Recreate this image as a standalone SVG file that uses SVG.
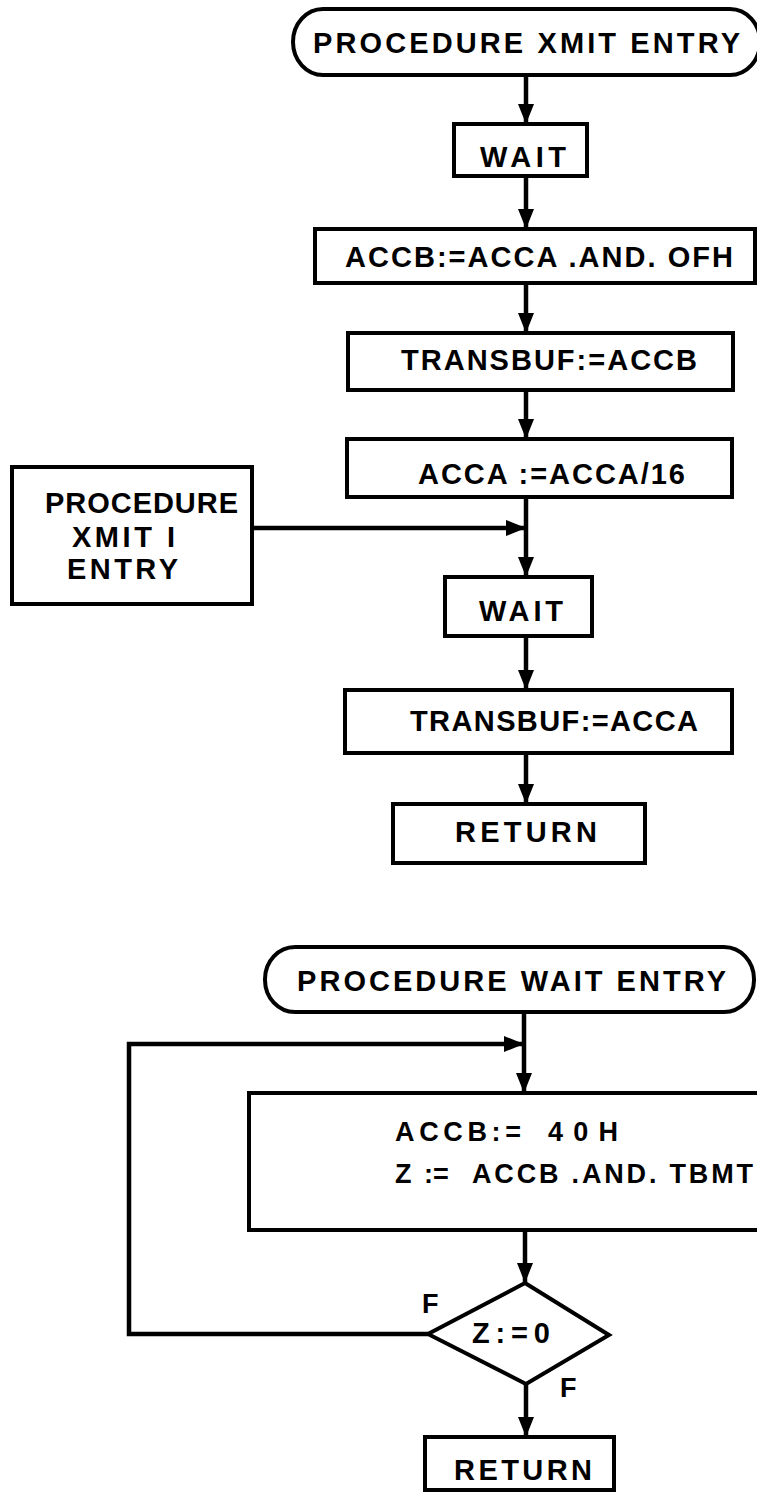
<svg xmlns="http://www.w3.org/2000/svg" width="757" height="1492" viewBox="0 0 757 1492">
  <style>
    .box { fill: #fff; stroke: #000; stroke-width: 4; }
    .wire { fill: none; stroke: #000; stroke-width: 4.5; stroke-linejoin: miter; }
    .lbl { font-family: "Liberation Sans", Arial, sans-serif; font-weight: bold; font-size: 29px; fill: #000; }
    .sm { font-size: 27px; }
  </style>
  <defs>
    <marker id="head" markerUnits="userSpaceOnUse" markerWidth="20" markerHeight="16" refX="19" refY="8" orient="auto">
      <path d="M0,0 L20,8 L0,16 Z" fill="#000"/>
    </marker>
  </defs>
  <rect width="757" height="1492" fill="#fff"/>

  <!-- connectors -->
  <g id="connectors" class="wire">
    <line x1="526" y1="75" x2="526" y2="123" marker-end="url(#head)"/>
    <line x1="526" y1="176" x2="526" y2="228" marker-end="url(#head)"/>
    <line x1="526" y1="283" x2="526" y2="332" marker-end="url(#head)"/>
    <line x1="526" y1="390" x2="526" y2="438" marker-end="url(#head)"/>
    <line x1="526" y1="497" x2="526" y2="576" marker-end="url(#head)"/>
    <line x1="252" y1="528" x2="525" y2="528" marker-end="url(#head)"/>
    <line x1="526" y1="636" x2="526" y2="689" marker-end="url(#head)"/>
    <line x1="526" y1="753" x2="526" y2="803" marker-end="url(#head)"/>

    <line x1="524" y1="1012" x2="524" y2="1092" marker-end="url(#head)"/>
    <path d="M428,1334 H129 V1044 H523" marker-end="url(#head)"/>
    <line x1="525" y1="1230" x2="525" y2="1282" marker-end="url(#head)"/>
    <line x1="526" y1="1384" x2="526" y2="1436" marker-end="url(#head)"/>
  </g>

  <!-- procedure XMIT -->
  <g id="xmit-entry">
    <rect class="box" x="293" y="9" width="467" height="66" rx="30" ry="33"/>
    <text class="lbl" x="313" y="53" textLength="427" lengthAdjust="spacing">PROCEDURE XMIT ENTRY</text>
  </g>
  <g id="wait-1">
    <rect class="box" x="454" y="124" width="133" height="52"/>
    <text class="lbl" x="480" y="167" textLength="86" lengthAdjust="spacing">WAIT</text>
  </g>
  <g id="accb-and">
    <rect class="box" x="315" y="229" width="440" height="54"/>
    <text class="lbl" x="345" y="267" textLength="388" lengthAdjust="spacing">ACCB:=ACCA .AND. OFH</text>
  </g>
  <g id="transbuf-accb">
    <rect class="box" x="348" y="333" width="385" height="57"/>
    <text class="lbl" x="401" y="370" textLength="296" lengthAdjust="spacing">TRANSBUF:=ACCB</text>
  </g>
  <g id="acca-div">
    <rect class="box" x="347" y="439" width="385" height="58"/>
    <text class="lbl" x="418" y="484" textLength="267" lengthAdjust="spacing">ACCA :=ACCA/16</text>
  </g>
  <g id="xmit1-entry">
    <rect class="box" x="12" y="467" width="240" height="137"/>
    <text class="lbl" x="45" y="513" textLength="193" lengthAdjust="spacing">PROCEDURE</text>
    <text class="lbl" x="72" y="547" textLength="103" lengthAdjust="spacing">XMIT I</text>
    <text class="lbl" x="67" y="579" textLength="111" lengthAdjust="spacing">ENTRY</text>
  </g>
  <g id="wait-2">
    <rect class="box" x="445" y="577" width="147" height="59"/>
    <text class="lbl" x="479" y="621" textLength="84" lengthAdjust="spacing">WAIT</text>
  </g>
  <g id="transbuf-acca">
    <rect class="box" x="345" y="690" width="387" height="63"/>
    <text class="lbl" x="410" y="731" textLength="288" lengthAdjust="spacing">TRANSBUF:=ACCA</text>
  </g>
  <g id="return-1">
    <rect class="box" x="393" y="804" width="252" height="59"/>
    <text class="lbl" x="455" y="842" textLength="142" lengthAdjust="spacing">RETURN</text>
  </g>

  <!-- procedure WAIT -->
  <g id="wait-entry">
    <rect class="box" x="265" y="947" width="489" height="65" rx="30" ry="32"/>
    <text class="lbl" x="297" y="991" textLength="429" lengthAdjust="spacing">PROCEDURE WAIT ENTRY</text>
  </g>
  <g id="test-tbmt">
    <rect class="box" x="249" y="1093" width="530" height="137"/>
    <text class="lbl sm" y="1141"><tspan x="395" textLength="126" lengthAdjust="spacing">ACCB:=</tspan> <tspan x="548" textLength="70" lengthAdjust="spacing">40H</tspan></text>
    <text class="lbl sm" y="1183"><tspan x="395">Z</tspan> <tspan x="424">:=</tspan> <tspan x="472" textLength="281" lengthAdjust="spacing">ACCB .AND. TBMT</tspan></text>
  </g>
  <g id="z-test">
    <polygon class="box" points="525,1283 609,1335 526,1384 428,1334"/>
    <text class="lbl" x="472" y="1343" textLength="78" lengthAdjust="spacing">Z:=0</text>
    <text class="lbl sm" x="422" y="1313">F</text>
    <text class="lbl sm" x="560" y="1397">F</text>
  </g>
  <g id="return-2">
    <rect class="box" x="425" y="1437" width="189" height="53"/>
    <text class="lbl" x="454" y="1480" textLength="138" lengthAdjust="spacing">RETURN</text>
  </g>
</svg>
